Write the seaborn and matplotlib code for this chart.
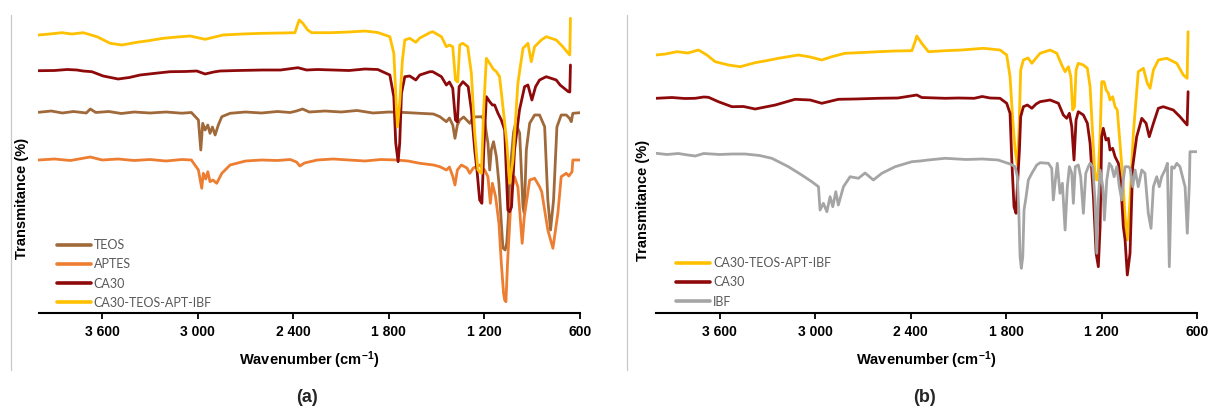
import matplotlib
matplotlib.use("Agg")
import matplotlib.pyplot as plt
import pandas as pd
import seaborn as sns
from matplotlib.lines import Line2D

# ---------------- data (wavenumber in cm-1, offset transmittance in a.u.) ----------------
XTICKS = [3600, 3000, 2400, 1800, 1200, 600]
XTICK_LABELS = ["3 600", "3 000", "2 400", "1 800", "1 200", "600"]

# Panel (a)
TEOS_WN = [4000, 3920, 3850, 3780, 3700, 3675, 3640, 3560, 3480, 3400, 3300, 3200, 3100, 3040,
           2996, 2981, 2969, 2954, 2937, 2923, 2908, 2891, 2871, 2849, 2797, 2700, 2600, 2500,
           2420, 2380, 2342, 2300, 2200, 2100, 2000, 1900, 1800, 1700, 1606, 1520, 1480, 1439,
           1420, 1399, 1385, 1370, 1355, 1330, 1292, 1270, 1219, 1200, 1178, 1167, 1157, 1143,
           1125, 1109, 1094, 1084, 1070, 1060, 1050, 1040, 1017, 1004, 979, 958, 950, 937, 916,
           885, 854, 822, 802, 785, 766, 745, 718, 686, 666, 655, 645, 600]
TEOS_T = [200.7, 202, 200, 201.5, 200, 204, 200.5, 201.5, 199.5, 201, 200, 201, 199.8, 200.5,
          193, 163, 189.7, 183, 188, 179.7, 186, 178, 188, 196.3, 199.7, 201, 200, 201.5,
          200.5, 202, 204, 201, 202, 201, 202.5, 200, 201, 200.5, 199.7, 199, 196.3, 191.3,
          195, 188, 174.7, 188, 193, 196, 189.7, 196, 196.3, 193, 169.7, 143, 163, 171.3,
          156.3, 129.7, 90, 65, 63, 70, 95, 140, 181, 189.7, 180, 106, 100, 163, 189.7,
          198, 198, 186.3, 113, 83, 113, 186, 198, 198, 194.7, 191.3, 199.7, 200.3]

APTES_WN = [4000, 3900, 3800, 3675, 3600, 3500, 3400, 3300, 3200, 3100, 3040, 2996, 2975, 2965,
            2950, 2937, 2923, 2905, 2881, 2849, 2797, 2700, 2600, 2500, 2420, 2380, 2359, 2330,
            2250, 2150, 2050, 1950, 1850, 1750, 1680, 1606, 1520, 1480, 1439, 1420, 1399, 1385,
            1370, 1345, 1310, 1292, 1270, 1230, 1199, 1178, 1163, 1150, 1130, 1109, 1094, 1080,
            1073, 1065, 1055, 1031, 1011, 990, 963, 950, 916, 885, 854, 840, 802, 770, 739, 718,
            686, 670, 650, 645, 600]
APTES_T = [153, 154, 152.5, 156, 153, 154, 152.5, 153.5, 152, 153.5, 153, 143, 124.7, 139.7,
           134, 141.3, 131.3, 133, 129.7, 139.7, 148, 152, 153, 152.5, 153.5, 151, 147, 150,
           153, 154, 153, 152, 153.5, 153, 152, 149.7, 148, 146.3, 143, 146, 136.7, 128,
           143, 148, 145, 139.7, 145, 148, 143, 136.3, 109.7, 129.7, 116.3, 89.7, 49.7, 20,
           13, 11.3, 50, 119.7, 136.3, 126, 69.7, 96, 133, 134.7, 126.3, 121, 83, 64.7, 99.7, 136.3,
           139.7, 137, 141.3, 153, 153]

CA30A_WN = [4000, 3900, 3820, 3759, 3720, 3665, 3594, 3500, 3430, 3362, 3250, 3174, 3080, 3006,
            2954, 2900, 2860, 2750, 2591, 2480, 2371, 2317, 2250, 2150, 2050, 1950, 1870, 1794,
            1769, 1757, 1742, 1732, 1721, 1700, 1669, 1631, 1606, 1543, 1525, 1470, 1439, 1420,
            1399, 1382, 1370, 1359, 1335, 1302, 1282, 1261, 1247, 1230, 1216, 1205, 1188, 1167,
            1150, 1136, 1115, 1094, 1073, 1053, 1042, 1030, 1011, 980, 948, 927, 902, 879, 854,
            812, 749, 725, 673, 664, 660]
CA30A_T = [242.3, 242.5, 243.5, 243, 242, 241.3, 237, 234, 235.5, 238, 240, 241.3, 241.5, 242,
           239, 241, 242, 242.5, 243, 243, 245.3, 243, 243.5, 243, 242.5, 244, 243.5, 238,
           216.3, 170, 151.3, 170, 219.7, 236.3, 237, 233, 238, 241.3, 241.3, 236.3, 228, 231,
           224.7, 193, 191, 226.3, 231.3, 226.3, 203, 163, 143, 113, 109.7, 159.7, 216.3, 211.3,
           208, 208, 199.7, 193, 183, 103, 101.3, 106, 163, 203, 226.3, 228, 213, 226.3, 233,
           236.3, 233, 228, 221.3, 221, 248]

MIXA_WN = [4000, 3930, 3853, 3790, 3719, 3633, 3550, 3476, 3382, 3300, 3218, 3130, 3048, 2954,
           2841, 2720, 2591, 2480, 2390, 2370, 2363, 2340, 2310, 2285, 2170, 2050, 1950, 1870,
           1794, 1769, 1752, 1746, 1732, 1715, 1700, 1669, 1631, 1606, 1543, 1525, 1470, 1439,
           1420, 1399, 1382, 1368, 1355, 1337, 1305, 1282, 1261, 1241, 1219, 1205, 1188, 1167,
           1145, 1125, 1105, 1084, 1059, 1042, 1021, 990, 958, 927, 906, 885, 843, 812, 749,
           708, 670, 664, 660]
MIXA_T = [278, 279, 280.3, 279, 280.3, 276.3, 269.7, 268, 270.7, 272.5, 274.7, 276, 277, 273.7,
          278, 279, 279.7, 280, 280.3, 290, 293, 289.7, 283, 280.3, 280.3, 281, 282, 280.5,
          276.3, 259.7, 203, 186.3, 210, 253, 273, 274.7, 270.7, 275, 280.3, 281.3, 276.3, 266.3,
          268, 266.3, 233, 231, 268, 269.7, 266.3, 239.7, 179.7, 143, 139.7, 203, 254.7, 249.7,
          244, 241.3, 236.3, 206.3, 169.7, 129.7, 153, 229.7, 264.7, 269.7, 251.3, 266.3, 273, 276.3, 273,
          266.3, 259, 258, 294.7]

# Panel (b)
MIXB_WN = [4000, 3940, 3869, 3800, 3733, 3680, 3628, 3545, 3471, 3377, 3300, 3231, 3105, 3031,
           2958, 2895, 2812, 2700, 2602, 2500, 2392, 2370, 2361, 2330, 2288, 2183, 2080, 1943,
           1838, 1796, 1775, 1758, 1743, 1729, 1718, 1708, 1691, 1662, 1638, 1611, 1586, 1523,
           1481, 1450, 1429, 1408, 1393, 1381, 1370, 1360, 1346, 1314, 1289, 1272, 1255, 1241,
           1230, 1220, 1209, 1199, 1184, 1171, 1157, 1147, 1130, 1115, 1101, 1084, 1067, 1052,
           1038, 1021, 1000, 969, 937, 912, 895, 874, 843, 790, 727, 686, 662, 656]
MIXB_T = [258, 259, 261.3, 260, 263, 258, 251.3, 248, 246.3, 250.3, 252.5, 254.7, 258, 256,
          253, 256.3, 259.7, 260.5, 261.3, 262, 262.3, 272, 277, 269.7, 261.3, 262.3, 263, 264.7,
          263, 258, 236.3, 193, 163, 148, 186.3, 243, 253, 255, 249.7, 255, 259.7, 263,
          259.7, 248, 241.3, 246.3, 236.3, 203, 206, 243, 249.7, 248, 244.7, 226.3, 176.3, 136.3,
          133, 143, 176.3, 231.3, 231.3, 223, 219.7, 213, 216.3, 206.3, 203, 169.7, 136.3, 96.3,
          73, 113, 179.7, 241.3, 244.7, 229.7, 224.7, 243, 253, 254.7, 249.7, 238, 234.7, 281.3]

CA30B_WN = [4000, 3900, 3820, 3754, 3700, 3670, 3608, 3523, 3450, 3377, 3250, 3126, 3031, 2958,
            2854, 2750, 2604, 2480, 2361, 2330, 2183, 2100, 2000, 1950, 1900, 1838, 1796, 1775,
            1764, 1750, 1737, 1729, 1716, 1708, 1691, 1666, 1638, 1611, 1586, 1523, 1471, 1440,
            1419, 1402, 1387, 1373, 1360, 1346, 1314, 1289, 1272, 1251, 1234, 1220, 1209, 1199,
            1189, 1172, 1157, 1147, 1130, 1115, 1094, 1079, 1063, 1052, 1038, 1021, 1004, 979,
            947, 920, 900, 874, 843, 812, 749, 707, 662, 656]
CA30B_T = [214.7, 215.5, 214.5, 214.7, 216, 215.7, 211.3, 206.3, 206.5, 204, 208, 213.7, 213, 209.7,
           213.7, 214, 214.7, 215, 218, 215.5, 214.7, 215, 214.7, 216.5, 215, 214.7, 209.7, 199.7,
           153, 106.3, 99.7, 126, 163, 196.3, 206.3, 208, 204.7, 209, 211.3, 213, 209.7, 198,
           194.7, 199.7, 186.3, 153, 193, 201.3, 198, 189.7, 169.7, 116.3, 59.7, 46.3, 86.3, 176.3,
           184.7, 173, 174.7, 163, 164.7, 156.3, 149.7, 129.7, 86.3, 73, 38, 59.7, 146.3, 176.3,
           194.7, 189.7, 176.3, 189.7, 204.7, 206.3, 203, 196.3, 188, 221.3]

IBF_WN = [4000, 3930, 3860, 3800, 3754, 3700, 3600, 3520, 3440, 3350, 3272, 3168, 3084, 3021,
          2979, 2969, 2948, 2926, 2906, 2889, 2870, 2854, 2822, 2780, 2728, 2686, 2634, 2581,
          2497, 2392, 2340, 2290, 2183, 2050, 1950, 1850, 1775, 1743, 1729, 1720, 1712, 1704,
          1695, 1687, 1674, 1660, 1638, 1607, 1586, 1534, 1513, 1503, 1490, 1478, 1461, 1446,
          1429, 1415, 1402, 1387, 1377, 1365, 1346, 1331, 1314, 1299, 1283, 1272, 1255, 1241,
          1230, 1220, 1209, 1192, 1182, 1167, 1151, 1136, 1121, 1104, 1088, 1073, 1063, 1052,
          1031, 1021, 1004, 989, 969, 947, 927, 906, 889, 874, 853, 837, 822, 801, 786, 774,
          759, 744, 727, 707, 686, 675, 661, 648, 644, 600]
IBF_T = [159.7, 158.5, 159.5, 158, 157, 159.5, 158.5, 159, 159, 157.5, 154.7, 146.3, 138, 131.3,
         126.3, 103, 109.7, 101.3, 116.3, 106.3, 121.3, 108, 126.3, 136.3, 134.7, 140, 133, 139.7,
         146.3, 151.3, 152, 153, 154.7, 153.5, 154, 153, 149, 146.3, 136.3, 103, 56.3, 44.7,
         56.3, 103, 116.3, 133, 139.7, 148, 150.3, 149.7, 144.7, 113, 133, 149.7, 119.7, 129.7,
         83, 126.3, 146.3, 139.7, 109.7, 146.3, 148, 136.3, 99.7, 139.7, 146.3, 149.7, 146.3, 113,
         59.7, 113, 143, 126.3, 93, 133, 149.7, 146.3, 136.3, 146.3, 126.3, 113, 133, 146.3,
         146.3, 144.7, 126.3, 143, 126.3, 143, 139.7, 99.7, 84.7, 126.3, 136.3, 126.3, 136.3, 143, 149.7, 46.3,
         146.3, 144.7, 149.7, 146.3, 133, 126.3, 79.7, 129.7, 161.3, 161.3]

PANEL_A = {"TEOS": (TEOS_WN, TEOS_T), "APTES": (APTES_WN, APTES_T),
           "CA30": (CA30A_WN, CA30A_T), "CA30-TEOS-APT-IBF": (MIXA_WN, MIXA_T)}
PANEL_B = {"CA30-TEOS-APT-IBF": (MIXB_WN, MIXB_T), "CA30": (CA30B_WN, CA30B_T),
           "IBF": (IBF_WN, IBF_T)}

COLORS = {"TEOS": "#A0693A", "APTES": "#ED7D31", "CA30": "#8E0A0A",
          "CA30-TEOS-APT-IBF": "#FFC000", "IBF": "#A5A5A5"}

# ---------------- style ----------------
sns.set_theme(style="white")
plt.rcParams["font.family"] = ["Lato", "DejaVu Sans"]
BOLD = "Liberation Sans"
plt.rcParams["mathtext.fontset"] = "custom"
plt.rcParams["mathtext.rm"] = "Liberation Sans"
plt.rcParams["mathtext.bf"] = "Liberation Sans:bold"
plt.rcParams["mathtext.it"] = "Liberation Sans:italic"

W, H = 1210, 409
fig = plt.figure(figsize=(W / 100, H / 100), dpi=100)
fig.patch.set_facecolor("white")

axA = fig.add_axes([38.5 / W, 1 - 313 / H, 541.5 / W, 298 / H])
axB = fig.add_axes([656 / W, 1 - 313 / H, 541 / W, 298 / H])


def make_frame(panel):
    parts = [pd.DataFrame({"wn": wn, "T": t, "sample": name}) for name, (wn, t) in panel.items()]
    return pd.concat(parts, ignore_index=True)


def draw(ax, panel, legend_xy, ylab_xy):
    order = list(panel.keys())
    df = make_frame(panel)
    sns.lineplot(data=df, x="wn", y="T", hue="sample", hue_order=order,
                 palette={k: COLORS[k] for k in order}, estimator=None, sort=False,
                 lw=2.0, ax=ax, legend=False)
    ax.set_xlim(4000, 600)
    ax.set_ylim(0, 298)
    ax.set_yticks([])
    ax.set_xticks(XTICKS, labels=XTICK_LABELS)
    for lbl in ax.get_xticklabels():
        lbl.set_fontfamily(BOLD)
        lbl.set_fontweight("bold")
        lbl.set_fontsize(10)
    ax.tick_params(axis="x", direction="out", length=4.5, width=1.3, color="black",
                   pad=4, labelcolor="black", bottom=True)
    for s in ("left", "top", "right"):
        ax.spines[s].set_visible(False)
    ax.spines["bottom"].set_color("black")
    ax.spines["bottom"].set_linewidth(1.5)
    ax.set_facecolor("white")
    ax.grid(False)
    ax.set_xlabel(r"Wavenumber (cm$^{\mathbf{-1}}$)", fontsize=10.5, fontweight="bold",
                  color="black", fontfamily=BOLD)
    ax.xaxis.label.set_va("center")
    ax.xaxis.set_label_coords(0.5, -47 / 298)
    ax.set_ylabel("Transmitance (%)", fontsize=10.5, fontweight="bold", color="black",
                  fontfamily=BOLD)
    ax.yaxis.label.set_va("center")
    ax.yaxis.set_label_coords(*ylab_xy)
    handles = [Line2D([], [], color=COLORS[k], lw=2.6) for k in order]
    ax.legend(handles, order, loc="upper left", bbox_to_anchor=legend_xy,
              bbox_transform=fig.transFigure, frameon=False, fontsize=9,
              labelcolor="#595959", handlelength=2.75, handletextpad=0.2,
              labelspacing=0.58, borderpad=0, borderaxespad=0)


draw(axA, PANEL_A, (57 / W, 1 - 239 / H), ((22 - 38.5) / 541.5, (313 - 198) / 298))
draw(axB, PANEL_B, (676 / W, 1 - 257 / H), ((642.7 - 656) / 541, (313 - 200.7) / 298))

# light grey panel separators
for x in (10.8, 627.3):
    fig.add_artist(Line2D([x / W, x / W], [1 - 15 / H, 1 - 370 / H],
                          color="#C8C8C8", lw=0.9))

fig.text(307 / W, 1 - 397 / H, "(a)", ha="center", va="center", fontsize=13,
         fontweight="bold", fontfamily=BOLD)
fig.text(925 / W, 1 - 397 / H, "(b)", ha="center", va="center", fontsize=13,
         fontweight="bold", fontfamily=BOLD)

fig.savefig("out.png", dpi=100, facecolor="white")
